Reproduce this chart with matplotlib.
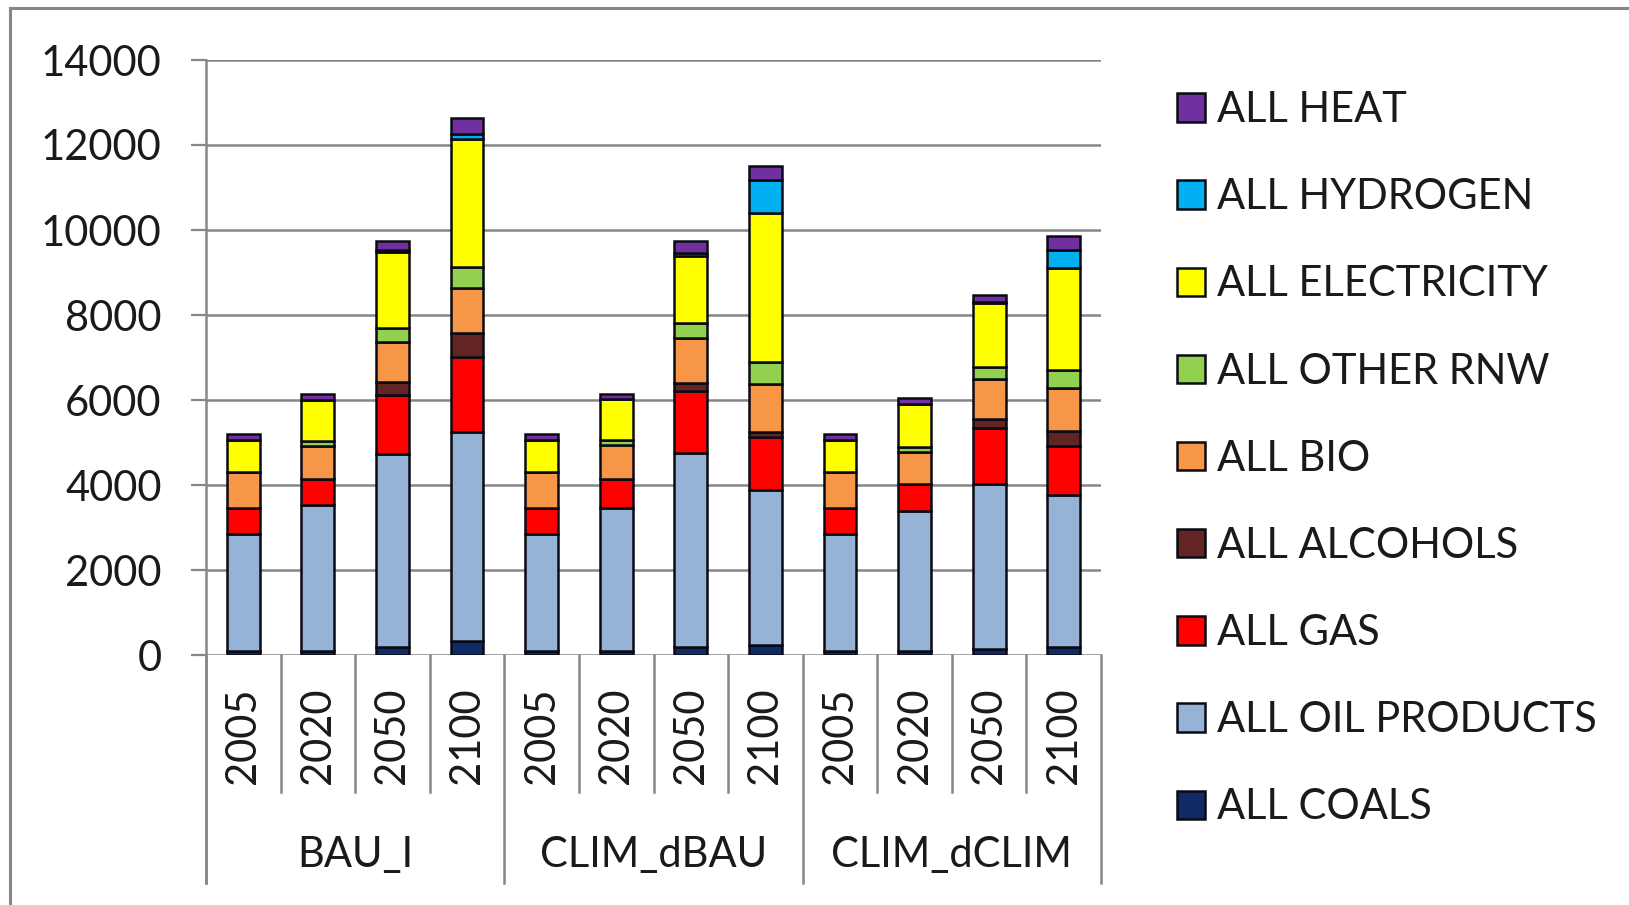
import matplotlib
matplotlib.use("Agg")
import matplotlib.pyplot as plt
from matplotlib.patches import Patch
from matplotlib.lines import Line2D
import numpy as np

plt.rcParams["font.family"] = ["Lato", "DejaVu Sans"]

# Categories: three scenarios, four years each
scenarios = ["BAU_I", "CLIM_dBAU", "CLIM_dCLIM"]
years = ["2005", "2020", "2050", "2100"]

# Final energy by carrier (stack order bottom -> top), one value per scenario/year
coals        = [100, 100, 200, 340,   100, 100, 200, 240,   100, 100, 130, 200]
oil_products = [2740, 3420, 4540, 4910, 2740, 3360, 4555, 3650, 2740, 3280, 3885, 3555]
gas          = [630, 620, 1370, 1770,  630, 680, 1450, 1235,  630, 635, 1330, 1160]
alcohols     = [0, 0, 310, 560,       0, 0, 195, 120,        0, 0, 200, 360]
bio          = [825, 770, 950, 1060,   825, 790, 1070, 1120,  825, 765, 950, 1000]
other_rnw    = [0, 130, 320, 500,      0, 120, 340, 535,      0, 120, 275, 435]
electricity  = [765, 970, 1790, 2990,  765, 980, 1575, 3510,  765, 1000, 1515, 2385]
hydrogen     = [0, 0, 60, 130,         0, 0, 65, 765,         0, 0, 15, 425]
heat         = [145, 120, 210, 380,    145, 100, 290, 340,    145, 140, 180, 340]

series_names = ["ALL COALS", "ALL OIL PRODUCTS", "ALL GAS", "ALL ALCOHOLS", "ALL BIO",
                "ALL OTHER RNW", "ALL ELECTRICITY", "ALL HYDROGEN", "ALL HEAT"]
series_values = [coals, oil_products, gas, alcohols, bio, other_rnw, electricity, hydrogen, heat]
series_colors = ["#0F2A64", "#95B3D7", "#FF0000", "#632523", "#F79646",
                 "#92D050", "#FFFF00", "#00B0F0", "#7030A0"]

y_ticks = [0, 2000, 4000, 6000, 8000, 10000, 12000, 14000]

W, H = 1629, 905
fig = plt.figure(figsize=(W / 100, H / 100), dpi=100)
fig.patch.set_facecolor("white")

ax_left, ax_right, ax_top, ax_bottom = 206, 1101, 60, 655
ax = fig.add_axes([ax_left / W, 1 - ax_bottom / H,
                   (ax_right - ax_left) / W, (ax_bottom - ax_top) / H])

grid_col = "#878787"
edge_col = "#0A0A14"

n = len(scenarios) * len(years)
x = np.arange(n)
bottom = np.zeros(n)
handles = []
for name, vals, col in zip(series_names, series_values, series_colors):
    v = np.array(vals, dtype=float)
    ax.bar(x, v, width=0.44, bottom=bottom, color=col, edgecolor=edge_col,
           linewidth=1.8, zorder=3)
    bottom += v
    handles.append(Patch(facecolor=col, edgecolor=edge_col, linewidth=1.8, label=name))

ax.set_xlim(-0.5, n - 0.5)
ax.set_ylim(0, 14000)
ax.set_yticks(y_ticks)
ax.set_yticklabels([str(t) for t in y_ticks], fontsize=30, color="#1a1a1a")
ax.tick_params(axis="y", direction="out", length=11, width=1.6, color=grid_col, pad=21)
ax.set_xticks([])
for s in ["top", "right", "bottom", "left"]:
    ax.spines[s].set_visible(False)
ax.yaxis.grid(True, color=grid_col, linewidth=1.8, zorder=0)
ax.set_axisbelow(True)

# vertical axis line, extended through the category label area
ax.plot([-0.5, -0.5], [1.0, -0.383], transform=ax.get_xaxis_transform(),
        color=grid_col, linewidth=1.8, clip_on=False, zorder=1)

# multi-level category axis: year dividers and scenario dividers
for i in range(n + 1):
    xd = i - 0.5
    depth = -0.383 if i % len(years) == 0 else -0.230
    ax.plot([xd, xd], [0, depth], transform=ax.get_xaxis_transform(),
            color=grid_col, linewidth=1.8, clip_on=False, zorder=1)

for i in range(n):
    ax.text(i, (ax_bottom - 736) / (ax_bottom - ax_top), years[i % len(years)],
            transform=ax.get_xaxis_transform(), rotation=90, ha="center", va="center",
            fontsize=30, color="#1a1a1a")

for g, sc in enumerate(scenarios):
    xc = g * len(years) + (len(years) - 1) / 2
    ax.text(xc, (ax_bottom - 867) / (ax_bottom - ax_top), sc,
            transform=ax.get_xaxis_transform(), ha="center", va="baseline",
            fontsize=30, color="#1a1a1a")

# legend, top entry first
leg = fig.legend(handles=handles[::-1], loc="upper left",
                 bbox_to_anchor=(1177 / W, 1 - 91 / H), frameon=False,
                 fontsize=30, handlelength=0.67, handleheight=0.67,
                 handletextpad=0.3, labelspacing=1.18, borderpad=0, borderaxespad=0)
for t in leg.get_texts():
    t.set_color("#1a1a1a")

# chart-area frame
fig.add_artist(Line2D([9.5 / W, 9.5 / W], [0, 1 - 8.5 / H], color=grid_col, linewidth=2.2))
fig.add_artist(Line2D([9.5 / W, 1], [1 - 8.5 / H, 1 - 8.5 / H], color=grid_col, linewidth=2.2))

fig.savefig("out.png", dpi=100)
